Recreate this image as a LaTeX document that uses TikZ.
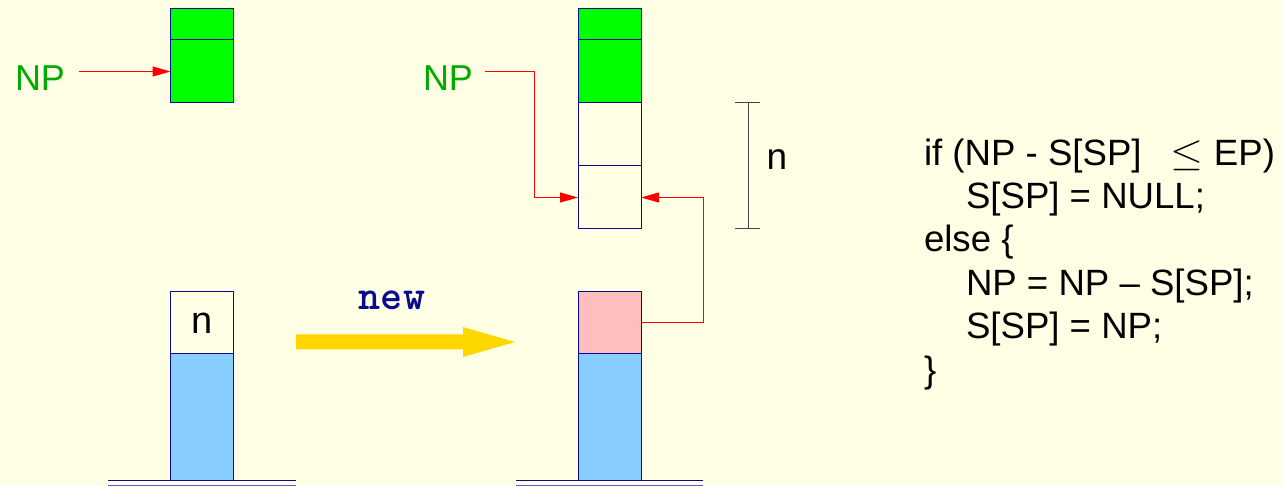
\documentclass[tikz,border=0pt]{standalone}
\usepackage{graphicx}
\usepackage{fontspec}
\setmainfont{Liberation Sans}
\usetikzlibrary{arrows.meta}
\definecolor{bgc}{RGB}{255,255,230}
\definecolor{navyc}{RGB}{10,10,145}
\definecolor{navyl}{RGB}{90,90,200}
\definecolor{greenfill}{RGB}{0,255,0}
\definecolor{greentext}{RGB}{0,170,0}
\definecolor{pinkc}{RGB}{255,190,190}
\definecolor{bluec}{RGB}{135,206,255}
\definecolor{goldc}{RGB}{255,215,0}
\definecolor{dimc}{RGB}{70,70,70}
\definecolor{redc}{RGB}{255,0,0}
\begin{document}
\begin{tikzpicture}[x=1pt,y=-1pt,
  cell/.style={draw=navyc, line width=1pt, minimum width=63pt, inner sep=0pt, outer sep=0pt, anchor=center},
  lbl/.style={font=\fontsize{36}{40}\selectfont, inner sep=0pt, outer sep=0pt},
  nplbl/.style={lbl, text=greentext, anchor=base west},
  code/.style={lbl, font=\fontsize{36.6}{40}\selectfont, anchor=base west},
  redarrow/.style={draw=redc, line width=1pt, -{Triangle[length=18pt,width=10pt]}},
  ground/.style={line width=1pt},
  dimline/.style={draw=dimc, line width=1pt}]
\fill[bgc] (0,0) rectangle (1283,486);
\useasboundingbox (0,0) rectangle (1283,486);

% left top stack
\node[cell, fill=greenfill, minimum height=31pt] (lb1) at (202,24.5) {};
\node[cell, fill=greenfill, minimum height=63pt] (lb2) at (202,71.5) {};
\node[nplbl] (np1) at (15,91) {NP};
\draw[redarrow, shorten <=14pt] (np1.east |- lb2.west) -- (lb2.west);

% left bottom stack
\node[cell, fill=bgc, minimum height=62pt, font=\fontsize{38}{40}\selectfont] (ln) at (202,323) {n};
\node[cell, fill=bluec, minimum height=126pt] (lblue) at (202,417) {};
\coordinate (lg1) at (108,480);
\coordinate (lg2) at (296,480);
\draw[ground, navyc] (lg1) -- (lg2);
\draw[ground, navyl] ([yshift=-5pt]lg1) -- ([yshift=-5pt]lg2);

% new arrow
\node[font=\ttfamily\bfseries\fontsize{42}{44}\selectfont, text=navyc, anchor=base, inner sep=0pt] (newlbl) at (392,310) {new};
\coordinate (ys) at (296,342);
\coordinate (ye) at (515,342);
\fill[goldc] ([yshift=-7.5pt]ys) -- ([xshift=-52pt,yshift=-7.5pt]ye) -- ([xshift=-52pt,yshift=-15pt]ye) -- (ye)
  -- ([xshift=-52pt,yshift=15pt]ye) -- ([xshift=-52pt,yshift=7.5pt]ye) -- ([yshift=7.5pt]ys) -- cycle;

% right top stack
\node[cell, fill=greenfill, minimum height=31pt] (rb1) at (609.5,24.5) {};
\node[cell, fill=greenfill, minimum height=63pt] (rb2) at (609.5,71.5) {};
\node[cell, fill=bgc, minimum height=63pt] (rb3) at (609.5,134.5) {};
\node[cell, fill=bgc, minimum height=63pt] (rb4) at (609.5,197.5) {};
\node[nplbl] (np2) at (423,91) {NP};
\coordinate (c1) at (534,72);
\draw[redarrow, shorten <=12pt] (np2.east |- c1) -- (c1) |- (rb4.west);

% right bottom stack
\node[cell, fill=pinkc, minimum height=62pt] (rpink) at (609.5,323) {};
\node[cell, fill=bluec, minimum height=126pt] (rblue) at (609.5,417) {};
\coordinate (rg1) at (516,480);
\coordinate (rg2) at (703,480);
\draw[ground, navyc] (rg1) -- (rg2);
\draw[ground, navyl] ([yshift=-5pt]rg1) -- ([yshift=-5pt]rg2);
\coordinate (c2) at (703,323);
\draw[redarrow] (rpink.east) -- (c2) |- (rb4.east);

% dimension
\coordinate (dt) at (748,103);
\coordinate (db) at (748,228.5);
\draw[dimline] (dt) -- (db);
\draw[dimline] ([xshift=-13pt]dt) -- ([xshift=12pt]dt);
\draw[dimline] ([xshift=-13pt]db) -- ([xshift=12pt]db);
\node[lbl, font=\fontsize{37}{40}\selectfont] (dimn) at (777,160) {n};

% code
\node[code] (l1) at (924,166) {if (NP - S[SP]\hspace{19pt} \resizebox*{33pt}{30pt}{$\leq$} EP)};
\node[code] (l2) at (966,208.5) {S[SP] = NULL;};
\node[code] (l3) at (924,252) {else \{};
\node[code] (l4) at (966,295.5) {NP = NP – S[SP];};
\node[code] (l5) at (966,339) {S[SP] = NP;};
\node[code] (l6) at (924,382) {\}};
\end{tikzpicture}
\end{document}
